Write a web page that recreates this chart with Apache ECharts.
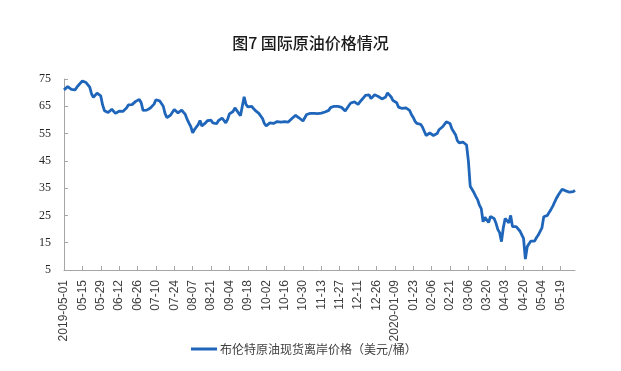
<!DOCTYPE html>
<html>
<head>
<meta charset="utf-8">
<script src="https://cdn.jsdelivr.net/npm/echarts@6/dist/echarts.min.js"></script>
<style>
html,body{margin:0;padding:0;background:#fff;}
#chart{width:621px;height:371px;}
</style>
</head>
<body>
<div id="chart"></div>
<script>
// Trading-day range and non-trading days (category axis)
const startDate = '2019-05-01';
const endDate = '2020-05-29';
const holidays = ['2019-12-25', '2020-02-17', '2020-04-10', '2020-05-08'];

// Brent spot FOB price (USD/bbl), one value per trading day
const brentPrice = [
  71.0, 71.7, 72.2, 71.9, 71.2, 71.0, 71.0, 72.0, 72.8, 73.3,
  74.3, 74.4, 73.7, 73.0, 72.0, 69.5, 68.3, 68.6, 69.8, 70.5,
  68.8, 65.5, 63.4, 62.7, 62.7, 63.3, 63.9, 63.5, 62.4, 62.6,
  63.2, 63.0, 63.1, 63.5, 64.4, 65.5, 65.8, 65.6, 66.2, 66.8,
  67.2, 67.5, 66.3, 63.5, 63.3, 63.6, 64.0, 64.4, 64.6, 65.8,
  67.4, 67.2, 67.0, 66.4, 65.0, 62.3, 60.8, 61.3, 61.8, 62.8,
  63.8, 63.2, 62.6, 62.5, 63.6, 63.1, 62.0, 60.2, 58.8, 57.5,
  55.3, 56.5, 57.2, 58.3, 59.8, 57.8, 57.6, 58.9, 59.7, 60.1,
  59.9, 58.9, 58.6, 58.6, 59.7, 60.4, 60.7, 60.0, 58.9, 60.2,
  62.2, 62.0, 63.1, 64.4, 64.8, 62.5, 61.5, 65.0, 68.5, 65.7,
  64.8, 65.1, 65.0, 64.3, 63.5, 62.8, 62.4, 61.7, 60.5, 58.7,
  57.8, 58.3, 58.9, 58.8, 58.7, 59.1, 59.4, 59.6, 59.2, 59.2,
  59.4, 59.6, 59.2, 59.6, 60.5, 61.0, 61.7, 61.3, 60.7, 60.5,
  59.6, 60.1, 62.0, 62.5, 62.4, 62.4, 62.4, 62.3, 62.3, 62.3,
  62.5, 63.0, 62.9, 62.8, 63.5, 64.5, 65.0, 65.0, 65.0, 65.0,
  65.0, 64.6, 64.0, 63.3, 63.9, 65.3, 66.2, 66.6, 66.6, 66.6,
  65.7, 66.6, 67.4, 68.2, 69.0, 69.5, 69.2, 67.8, 68.0, 69.2,
  69.1, 68.6, 68.1, 67.7, 67.5, 68.4, 69.9, 69.8, 68.4, 67.1,
  66.4, 66.3, 64.7, 64.0, 64.2, 64.4, 64.4, 64.3, 63.5, 62.0,
  60.9, 59.5, 58.7, 58.9, 58.4, 57.4, 56.7, 54.3, 54.0, 55.2,
  55.0, 54.3, 53.7, 55.0, 56.4, 57.1, 57.5, 58.2, 59.3, 59.6,
  58.7, 56.8, 56.1, 54.6, 52.4, 51.6, 52.0, 51.9, 51.4, 50.8,
  45.0, 35.7, 35.0, 33.4, 32.0, 30.8, 28.8, 27.5, 22.7, 24.3,
  23.7, 22.4, 24.6, 25.2, 23.9, 22.2, 19.9, 18.7, 15.4, 20.5,
  23.9, 23.4, 22.3, 25.0, 20.9, 20.3, 20.9, 20.4, 19.3, 18.6,
  16.6, 9.0, 13.5, 14.6, 15.6, 15.5, 15.6, 16.8, 17.8, 18.4,
  20.4, 24.5, 24.2, 25.0, 26.2, 27.3, 28.5, 30.0, 31.4, 32.6,
  33.6, 34.6, 34.5, 34.0, 33.8, 33.5, 33.0, 33.7, 34.2
];

const yTicks = { min: 5, max: 75, interval: 10 };
const titleText = '图7 国际原油价格情况';
const seriesName = '布伦特原油现货离岸价格（美元/桶）';

// build trading-day categories
function pad(n){ return (n < 10 ? '0' : '') + n; }
const dates = [];
{
  const d = new Date(startDate + 'T00:00:00Z');
  const e = new Date(endDate + 'T00:00:00Z');
  while (d <= e) {
    const s = d.getUTCFullYear() + '-' + pad(d.getUTCMonth() + 1) + '-' + pad(d.getUTCDate());
    const wd = d.getUTCDay();
    if (wd !== 0 && wd !== 6 && holidays.indexOf(s) < 0) dates.push(s);
    d.setUTCDate(d.getUTCDate() + 1);
  }
}

const chart = echarts.init(document.getElementById('chart'), null, { renderer: 'canvas' });
chart.setOption({
  animation: false,
  backgroundColor: '#ffffff',
  title: {
    text: titleText,
    left: 'center',
    top: 30,
    textStyle: { fontFamily: 'Noto Sans CJK SC', fontSize: 16, fontWeight: 500, color: '#1a1a1a' }
  },
  legend: {
    data: [seriesName],
    left: 186,
    top: 338,
    icon: 'rect',
    itemWidth: 26,
    itemHeight: 3,
    itemGap: 4,
    textStyle: { fontFamily: 'Noto Sans CJK SC', fontSize: 12, color: '#404040', padding: [0, 0, 0, -2] }
  },
  grid: { left: 64, right: 46, top: 79, bottom: 101, containLabel: false },
  xAxis: {
    type: 'category',
    data: dates,
    boundaryGap: false,
    axisLine: { lineStyle: { color: '#a6a6a6', width: 1 } },
    axisTick: { show: true, inside: true, length: 4, interval: 9, lineStyle: { color: '#a6a6a6' } },
    axisLabel: {
      interval: 9,
      rotate: 90,
      margin: 10,
      fontFamily: 'Liberation Sans',
      fontSize: 12,
      color: '#404040',
      formatter: function (v, i) {
        if (i === 0 || (i >= 10 && dates[i - 10].slice(0, 4) !== v.slice(0, 4))) return v;
        return v.slice(5);
      }
    },
    splitLine: { show: false }
  },
  yAxis: {
    type: 'value',
    min: yTicks.min,
    max: yTicks.max,
    interval: yTicks.interval,
    axisLine: { show: true, lineStyle: { color: '#a6a6a6', width: 1 } },
    axisTick: { show: true, inside: true, length: 4, lineStyle: { color: '#a6a6a6' } },
    axisLabel: { fontFamily: 'Liberation Serif', fontSize: 12, color: '#262626', margin: 13 },
    splitLine: { show: false }
  },
  series: [{
    name: seriesName,
    type: 'line',
    data: brentPrice,
    showSymbol: false,
    symbol: 'none',
    lineStyle: { color: '#1f66bb', width: 2.8 },
    itemStyle: { color: '#1f66bb' }
  }]
});
</script>
</body>
</html>
